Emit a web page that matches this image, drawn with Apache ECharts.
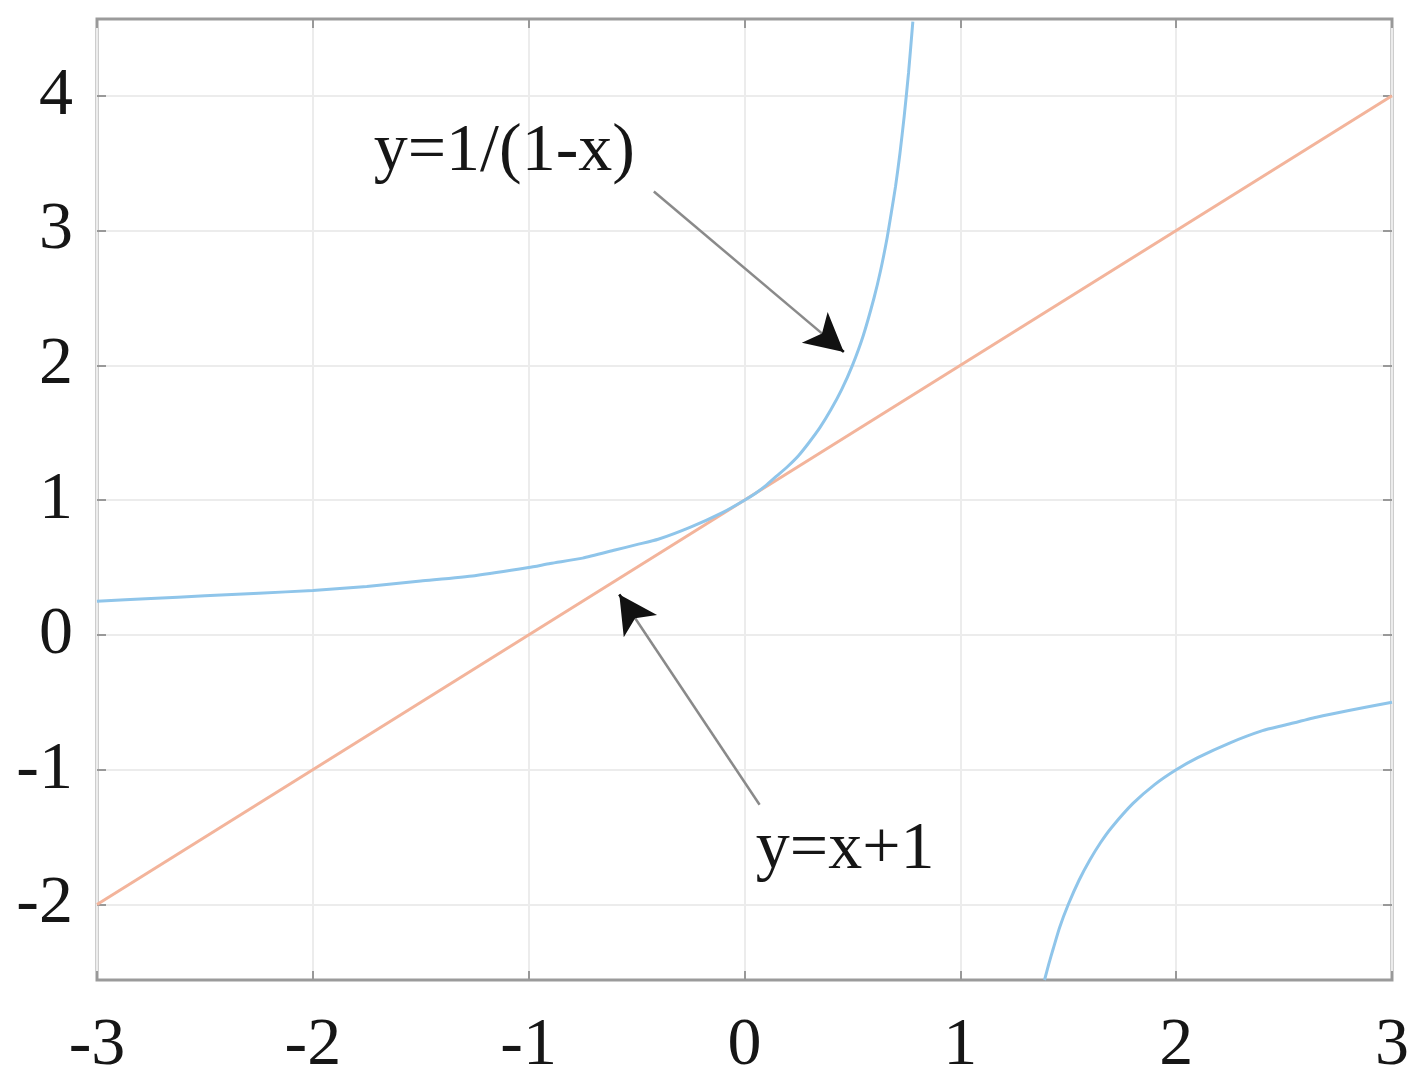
<!DOCTYPE html>
<html>
<head>
<meta charset="utf-8">
<script src="https://cdn.jsdelivr.net/npm/echarts@6/dist/echarts.min.js"></script>
<style>
  html, body { margin: 0; padding: 0; background: #fff; }
  #chart { width: 1419px; height: 1086px; }
</style>
</head>
<body>
<div id="chart"></div>
<script>
// 数据
const xTicks = [-3, -2, -1, 0, 1, 2, 3]
const yTicks = [-2, -1, 0, 1, 2, 3, 4]

// y = 1/(1-x), left branch
const hypLeftX = [-3, -2.75, -2.5, -2.25, -2, -1.75, -1.5, -1.25, -1, -0.9, -0.75, -0.6, -0.5, -0.4, -0.25, -0.1, 0,
  0.05, 0.1, 0.15, 0.2, 0.25, 0.3, 0.35, 0.4, 0.45, 0.5, 0.55, 0.6, 0.63, 0.66, 0.68, 0.7, 0.72, 0.74, 0.76, 0.78]
const hypLeftY = [0.25, 0.27, 0.29, 0.31, 0.33, 0.36, 0.4, 0.44, 0.5, 0.53, 0.57, 0.63, 0.67, 0.71, 0.8, 0.91, 1,
  1.05, 1.11, 1.18, 1.25, 1.33, 1.43, 1.54, 1.67, 1.82, 2, 2.22, 2.5, 2.7, 2.94, 3.13, 3.33, 3.57, 3.85, 4.17, 4.55]
// right branch
const hypRightX = [1.39, 1.41, 1.43, 1.46, 1.5, 1.55, 1.6, 1.65, 1.7, 1.8, 1.9, 2, 2.1, 2.25, 2.4, 2.5, 2.65, 2.8, 3]
const hypRightY = [-2.56, -2.44, -2.33, -2.17, -2, -1.82, -1.67, -1.54, -1.43, -1.25, -1.11, -1, -0.91, -0.8, -0.71, -0.67, -0.61, -0.56, -0.5]

// y = x + 1
const lineX = [-3, 3]
const lineY = [-2, 4]

// annotations: text anchor + arrow [tail, tip]
const label1 = { text: 'y=1/(1-x)', at: [-1.72, 3.58] }
const arrow1 = [[-0.42, 3.29], [0.46, 2.1]]
const label2 = { text: 'y=x+1', at: [0.05, -1.6] }
const arrow2 = [[0.07, -1.26], [-0.58, 0.3]]

const FONT = "'Liberation Serif', 'Times New Roman', serif"
const BLUE = '#8fc5ea'
const ORANGE = '#f3b49b'
const TEXT = '#161616'

const zip = (xs, ys) => xs.map((x, i) => [x, ys[i]])

// short piece near the tip, only to carry the black arrow head
function headPiece(a) {
  const [t, h] = a
  const k = 0.06
  return [{ coord: [h[0] - (h[0] - t[0]) * k, h[1] - (h[1] - t[1]) * k] }, { coord: h }]
}

const tickStyle = { show: true, inside: true, length: 9, lineStyle: { color: '#999', width: 2 } }
const noLine = { show: false, onZero: false }

const options = {
  animation: false,
  backgroundColor: '#fff',
  grid: {
    left: 97,
    right: 27,
    top: 19,
    bottom: 106,
    show: true,
    borderColor: '#9b9b9b',
    borderWidth: 3,
  },
  xAxis: [
    {
      type: 'value',
      min: -3,
      max: 3,
      interval: 1,
      axisLine: noLine,
      axisTick: tickStyle,
      axisLabel: { fontSize: 68, fontFamily: FONT, color: TEXT, margin: 32 },
      splitLine: { show: true, lineStyle: { color: '#ececec', width: 2 } },
    },
    {
      type: 'value',
      position: 'top',
      min: -3,
      max: 3,
      interval: 1,
      axisLine: noLine,
      axisTick: tickStyle,
      axisLabel: { show: false },
      splitLine: { show: false },
    },
  ],
  yAxis: [
    {
      type: 'value',
      min: -2.56,
      max: 4.57,
      axisLine: noLine,
      axisTick: Object.assign({}, tickStyle, { customValues: yTicks }),
      axisLabel: { customValues: yTicks, fontSize: 68, fontFamily: FONT, color: TEXT, margin: 24 },
      splitLine: { show: true, lineStyle: { color: '#ececec', width: 2 } },
    },
    {
      type: 'value',
      position: 'right',
      min: -2.56,
      max: 4.57,
      axisLine: noLine,
      axisTick: Object.assign({}, tickStyle, { customValues: yTicks }),
      axisLabel: { show: false },
      splitLine: { show: false },
    },
  ],
  series: [
    {
      name: 'y=x+1',
      type: 'line',
      data: zip(lineX, lineY),
      showSymbol: false,
      lineStyle: { color: ORANGE, width: 3 },
      z: 2,
    },
    {
      name: 'hyp-left',
      type: 'line',
      data: zip(hypLeftX, hypLeftY),
      showSymbol: false,
      smooth: 0.2,
      lineStyle: { color: BLUE, width: 3 },
      z: 3,
    },
    {
      name: 'hyp-right',
      type: 'line',
      data: zip(hypRightX, hypRightY),
      showSymbol: false,
      smooth: 0.2,
      lineStyle: { color: BLUE, width: 3 },
      z: 3,
    },
    {
      // 注释: arrow shafts (gray)
      name: 'arrows',
      type: 'line',
      data: [],
      markLine: {
        silent: true,
        symbol: ['none', 'none'],
        label: { show: false },
        lineStyle: { color: '#8a8a8a', width: 2.5, type: 'solid' },
        data: [
          [{ coord: arrow1[0] }, { coord: arrow1[1] }],
          [{ coord: arrow2[0] }, { coord: arrow2[1] }],
        ],
      },
      z: 5,
    },
    {
      // arrow heads (black)
      name: 'heads',
      type: 'line',
      data: [],
      markLine: {
        silent: true,
        symbol: ['none', 'arrow'],
        symbolSize: [30, 38],
        label: { show: false },
        lineStyle: { color: '#111', width: 2.5, type: 'solid' },
        itemStyle: { color: '#111' },
        data: [headPiece(arrow1), headPiece(arrow2)],
      },
      markPoint: {
        silent: true,
        symbol: 'circle',
        symbolSize: 1,
        itemStyle: { color: 'rgba(0,0,0,0)' },
        label: {
          show: true,
          position: 'right',
          distance: 0,
          fontSize: 68,
          fontFamily: FONT,
          color: TEXT,
          formatter: (p) => p.name,
        },
        data: [
          { name: label1.text, coord: label1.at },
          { name: label2.text, coord: label2.at },
        ],
      },
      z: 6,
    },
  ],
}

const chart = echarts.init(document.getElementById('chart'))
chart.setOption(options)
</script>
</body>
</html>
